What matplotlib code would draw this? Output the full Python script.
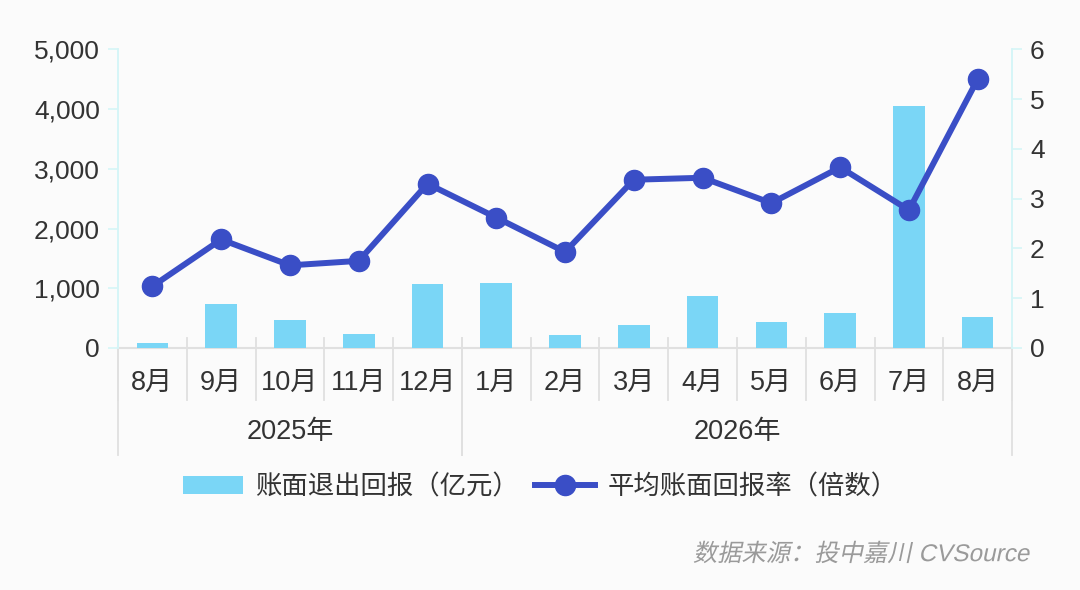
import numpy as np
import matplotlib.pyplot as plt
import matplotlib.transforms as mtransforms
from matplotlib.lines import Line2D
from matplotlib.patches import Patch, PathPatch
from matplotlib.textpath import TextPath
from matplotlib.font_manager import FontProperties

plt.rcParams['font.family'] = ['Liberation Sans', 'Noto Sans CJK SC', 'DejaVu Sans']

# data
months = ['8月', '9月', '10月', '11月', '12月', '1月', '2月', '3月', '4月', '5月', '6月', '7月', '8月']
years = ['2025年', '2026年']
year_spans = [(0, 4), (5, 12)]
exit_return = [80, 740, 470, 235, 1076, 1087, 213, 392, 874, 443, 588, 4056, 516]   # 亿元
avg_multiple = [1.24, 2.18, 1.66, 1.75, 3.30, 2.62, 1.93, 3.38, 3.42, 2.91, 3.63, 2.77, 5.40]
source = '数据来源：投中嘉川 CVSource'

bar_color = '#7AD6F6'
line_color = '#3A4EC6'
axis_cyan = '#D5F5F7'
grid_gray = '#E0E0E0'
text_color = '#333333'

fig = plt.figure(figsize=(10.8, 5.9), dpi=100, facecolor='#FBFBFB')
ax = fig.add_axes([0.1093, 0.4102, 0.8278, 0.5062])
ax.set_facecolor('#FBFBFB')
ax2 = ax.twinx()

x = np.arange(len(months))
ax.bar(x, exit_return, width=0.46, color=bar_color, zorder=2)
ax2.plot(x, avg_multiple, color=line_color, lw=4.3, marker='o', ms=14.5, zorder=3)

ax.set_xlim(-0.5, len(months) - 0.5)
ax.set_ylim(0, 5000)
ax2.set_ylim(0, 6)
ax.set_yticks(range(0, 5001, 1000))
ax.set_yticklabels([f'{v:,}' for v in range(0, 5001, 1000)])
ax2.set_yticks(range(0, 7))

for a in (ax, ax2):
    for s in ('top', 'bottom'):
        a.spines[s].set_visible(False)
    a.spines['left'].set_color(axis_cyan)
    a.spines['right'].set_color(axis_cyan)
    a.spines['left'].set_linewidth(1.2)
    a.spines['right'].set_linewidth(1.2)
    a.tick_params(axis='y', colors=axis_cyan, labelcolor=text_color, labelsize=19,
                  length=7, width=1.2, pad=6)
    a.tick_params(axis='x', bottom=False, labelbottom=False)

# category axis drawn by hand
trans = ax.get_xaxis_transform()
ax.plot([-0.5, len(months) - 0.5], [0, 0], color=grid_gray, lw=1.5, transform=trans, clip_on=False, zorder=1)
for b in np.arange(-0.5, len(months), 1.0):
    ax.plot([b, b], [0.034, -0.174], color=grid_gray, lw=1.3, transform=trans, clip_on=False)
for lo, hi in year_spans:
    for b in (lo - 0.5, hi + 0.5):
        ax.plot([b, b], [0.034, -0.358], color=grid_gray, lw=1.3, transform=trans, clip_on=False)
for i, m in enumerate(months):
    ax.text(i, -0.117, m, transform=trans, ha='center', va='center', fontsize=19.5, color=text_color)
for (lo, hi), y in zip(year_spans, years):
    ax.text((lo + hi) / 2, -0.281, y, transform=trans, ha='center', va='center', fontsize=19.5, color=text_color)

handles = [Patch(facecolor=bar_color, edgecolor='none'),
           Line2D([0], [0], color=line_color, lw=4.3, marker='o', ms=14.5)]
fig.legend(handles, ['账面退出回报（亿元）', '平均账面回报率（倍数）'], loc='center',
           bbox_to_anchor=(0.5, 0.175), ncol=2, frameon=False, fontsize=19,
           handlelength=2.3, handleheight=0.7, handletextpad=0.45, columnspacing=0.6,
           labelcolor=text_color)

# slanted source note (CJK font has no italic face, so shear the glyph outlines)
fp = FontProperties(family=['Liberation Sans', 'Noto Sans CJK SC'], size=17.5)
tp = TextPath((0, 0), source, prop=fp)
ext = tp.get_extents()
tr = (mtransforms.Affine2D()
      .translate(-ext.x1, -(ext.y0 + ext.y1) / 2)
      .scale(fig.dpi / 72)
      .skew_deg(12, 0)
      .translate(1030, 590 - 552))
fig.add_artist(PathPatch(tp, transform=tr, facecolor='#9A9A9A', edgecolor='none'))

fig.savefig('out.png', dpi=100, facecolor=fig.get_facecolor())
